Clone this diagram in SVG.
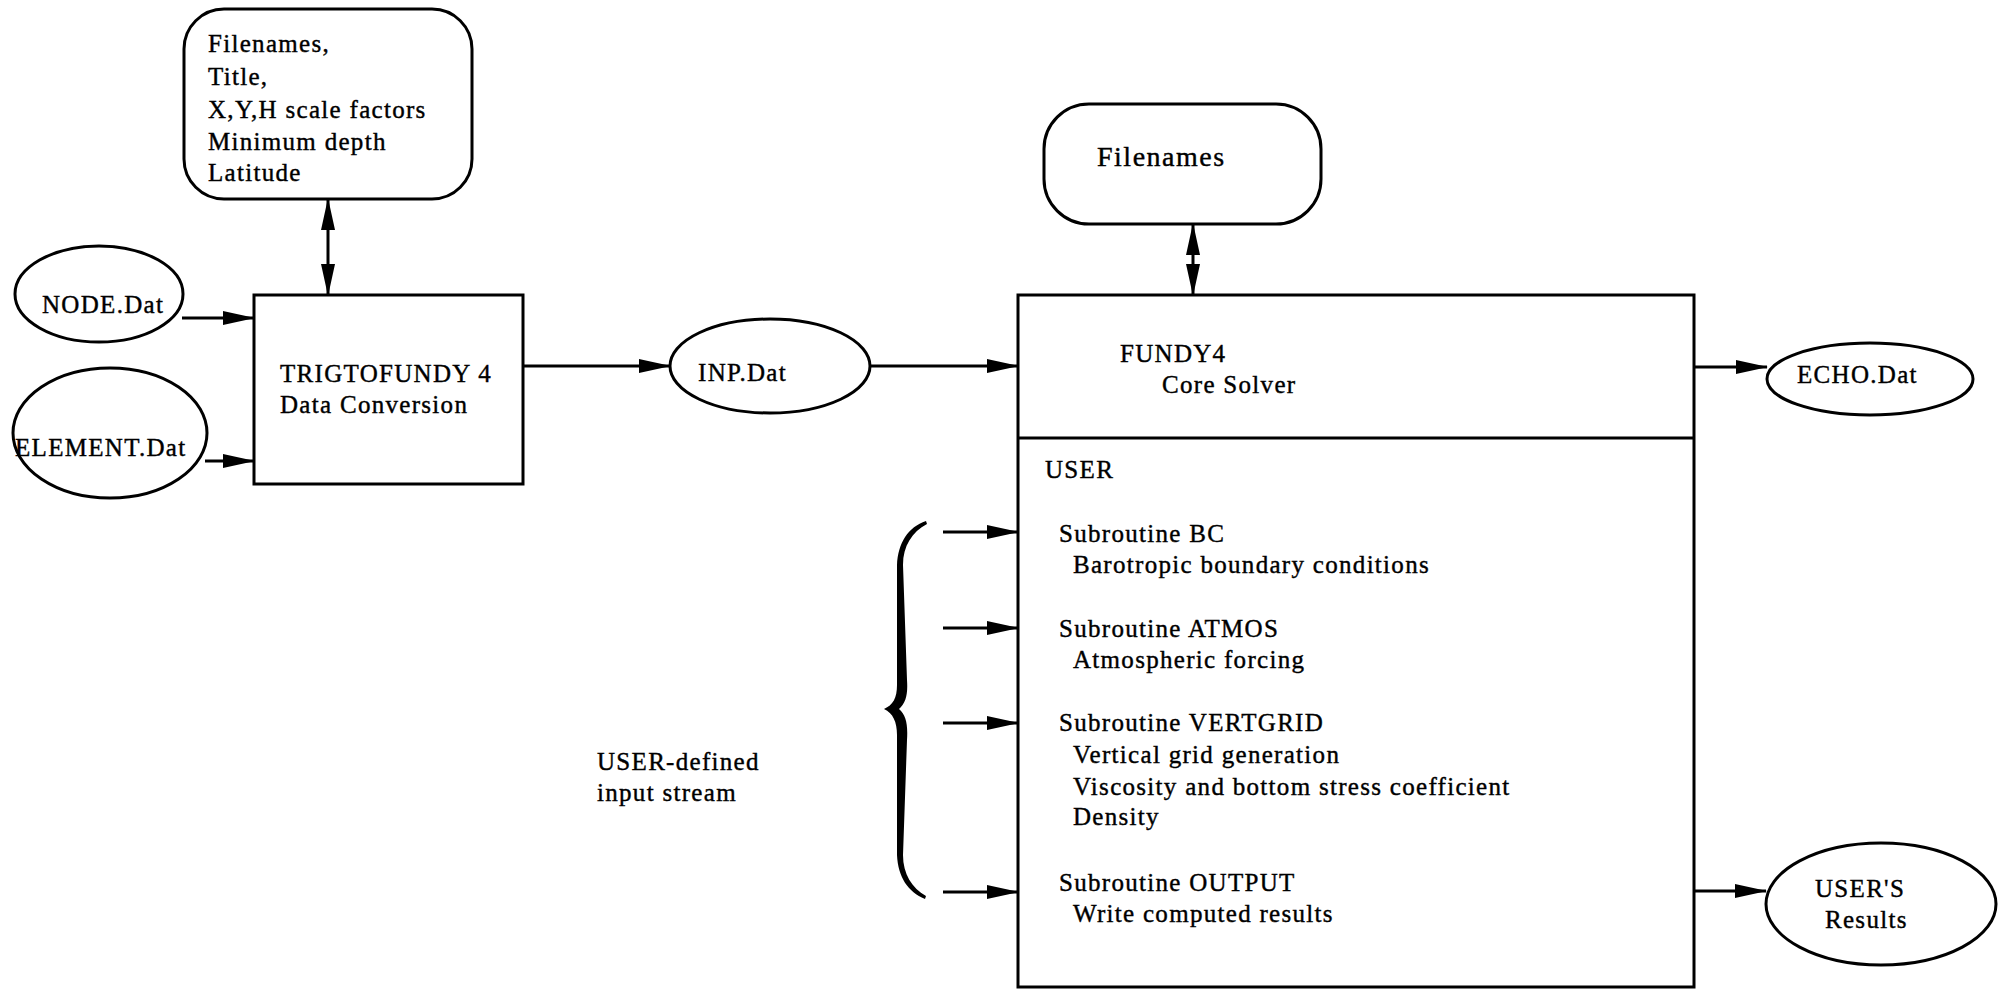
<svg xmlns="http://www.w3.org/2000/svg" width="2001" height="989" viewBox="0 0 2001 989">
<defs>
<marker id="ah" markerUnits="userSpaceOnUse" markerWidth="32" markerHeight="14" refX="31" refY="7" orient="auto-start-reverse" viewBox="0 0 32 14">
<path d="M0,0 L32,7 L0,14 Z" fill="#000"/>
</marker>
</defs>
<style>
text{font-family:"Liberation Serif","Times New Roman",serif;font-size:25px;letter-spacing:1.3px;fill:#000;stroke:#000;stroke-width:0.4px}
.shape{fill:#fff;stroke:#000;stroke-width:3}
.conn{stroke:#000;stroke-width:3;fill:none;marker-end:url(#ah)}
.dbl{marker-start:url(#ah)}
</style>
<rect width="2001" height="989" fill="#fff"/>

<g id="params">
<rect class="shape" x="184" y="9" width="288" height="190" rx="40" ry="40"/>
<text x="208" y="52">Filenames,</text>
<text x="208" y="85">Title,</text>
<text x="208" y="118">X,Y,H scale factors</text>
<text x="208" y="150">Minimum depth</text>
<text x="208" y="181">Latitude</text>
</g>

<g id="node-dat">
<ellipse class="shape" cx="99" cy="294" rx="84" ry="48"/>
<text x="42" y="313">NODE.Dat</text>
</g>

<g id="element-dat">
<ellipse class="shape" cx="110" cy="433" rx="97" ry="65"/>
<text x="15" y="456">ELEMENT.Dat</text>
</g>

<g id="trigtofundy">
<rect class="shape" x="254" y="295" width="269" height="189"/>
<text x="280" y="382">TRIGTOFUNDY 4</text>
<text x="280" y="413">Data Conversion</text>
</g>

<g id="inp-dat">
<ellipse class="shape" cx="770" cy="366" rx="100" ry="47"/>
<text x="698" y="381">INP.Dat</text>
</g>

<g id="filenames">
<rect class="shape" x="1044" y="104" width="277" height="120" rx="45" ry="45"/>
<text x="1097" y="166" style="font-size:28px;letter-spacing:1.5px">Filenames</text>
</g>

<g id="fundy4">
<rect class="shape" x="1018" y="295" width="676" height="692"/>
<line x1="1018" y1="438" x2="1694" y2="438" stroke="#000" stroke-width="3"/>
<text x="1120" y="362">FUNDY4</text>
<text x="1162" y="393">Core Solver</text>
<text x="1045" y="478">USER</text>
<text x="1059" y="542">Subroutine BC</text>
<text x="1073" y="573">Barotropic boundary conditions</text>
<text x="1059" y="637">Subroutine ATMOS</text>
<text x="1073" y="668">Atmospheric forcing</text>
<text x="1059" y="731">Subroutine VERTGRID</text>
<text x="1073" y="763">Vertical grid generation</text>
<text x="1073" y="795">Viscosity and bottom stress coefficient</text>
<text x="1073" y="825">Density</text>
<text x="1059" y="891">Subroutine OUTPUT</text>
<text x="1073" y="922">Write computed results</text>
</g>

<g id="echo-dat">
<ellipse class="shape" cx="1870" cy="379" rx="103" ry="36"/>
<text x="1797" y="383">ECHO.Dat</text>
</g>

<g id="users-results">
<ellipse class="shape" cx="1881" cy="904" rx="115" ry="61"/>
<text x="1815" y="897">USER'S</text>
<text x="1825" y="928">Results</text>
</g>

<g id="user-input">
<path d="M926,521 C908,527 898,543 897,565 L897,685 C897,698 893,705 884,709 C893,713 897,722 897,735 L897,855 C898,877 908,892 925,899 L926,896 C912,888 903,874 903,855 L907,740 C908,724 906,715 899,709 C906,703 908,694 907,680 L903,565 C903,546 912,532 927,524 Z" fill="#000"/>
<text x="597" y="770">USER-defined</text>
<text x="597" y="801">input stream</text>
</g>

<g id="connectors">
<line class="conn" x1="182" y1="318" x2="254" y2="318"/>
<line class="conn" x1="205" y1="461" x2="254" y2="461"/>
<line class="conn" x1="523" y1="366" x2="670" y2="366"/>
<line class="conn" x1="871" y1="366" x2="1018" y2="366"/>
<line class="conn dbl" x1="328" y1="199" x2="328" y2="295"/>
<line class="conn dbl" x1="1193" y1="224" x2="1193" y2="295"/>
<line class="conn" x1="1694" y1="367" x2="1767" y2="367"/>
<line class="conn" x1="1694" y1="891" x2="1766" y2="891"/>
<line class="conn" x1="943" y1="532" x2="1018" y2="532"/>
<line class="conn" x1="943" y1="628" x2="1018" y2="628"/>
<line class="conn" x1="943" y1="723" x2="1018" y2="723"/>
<line class="conn" x1="943" y1="892" x2="1018" y2="892"/>
</g>
</svg>
